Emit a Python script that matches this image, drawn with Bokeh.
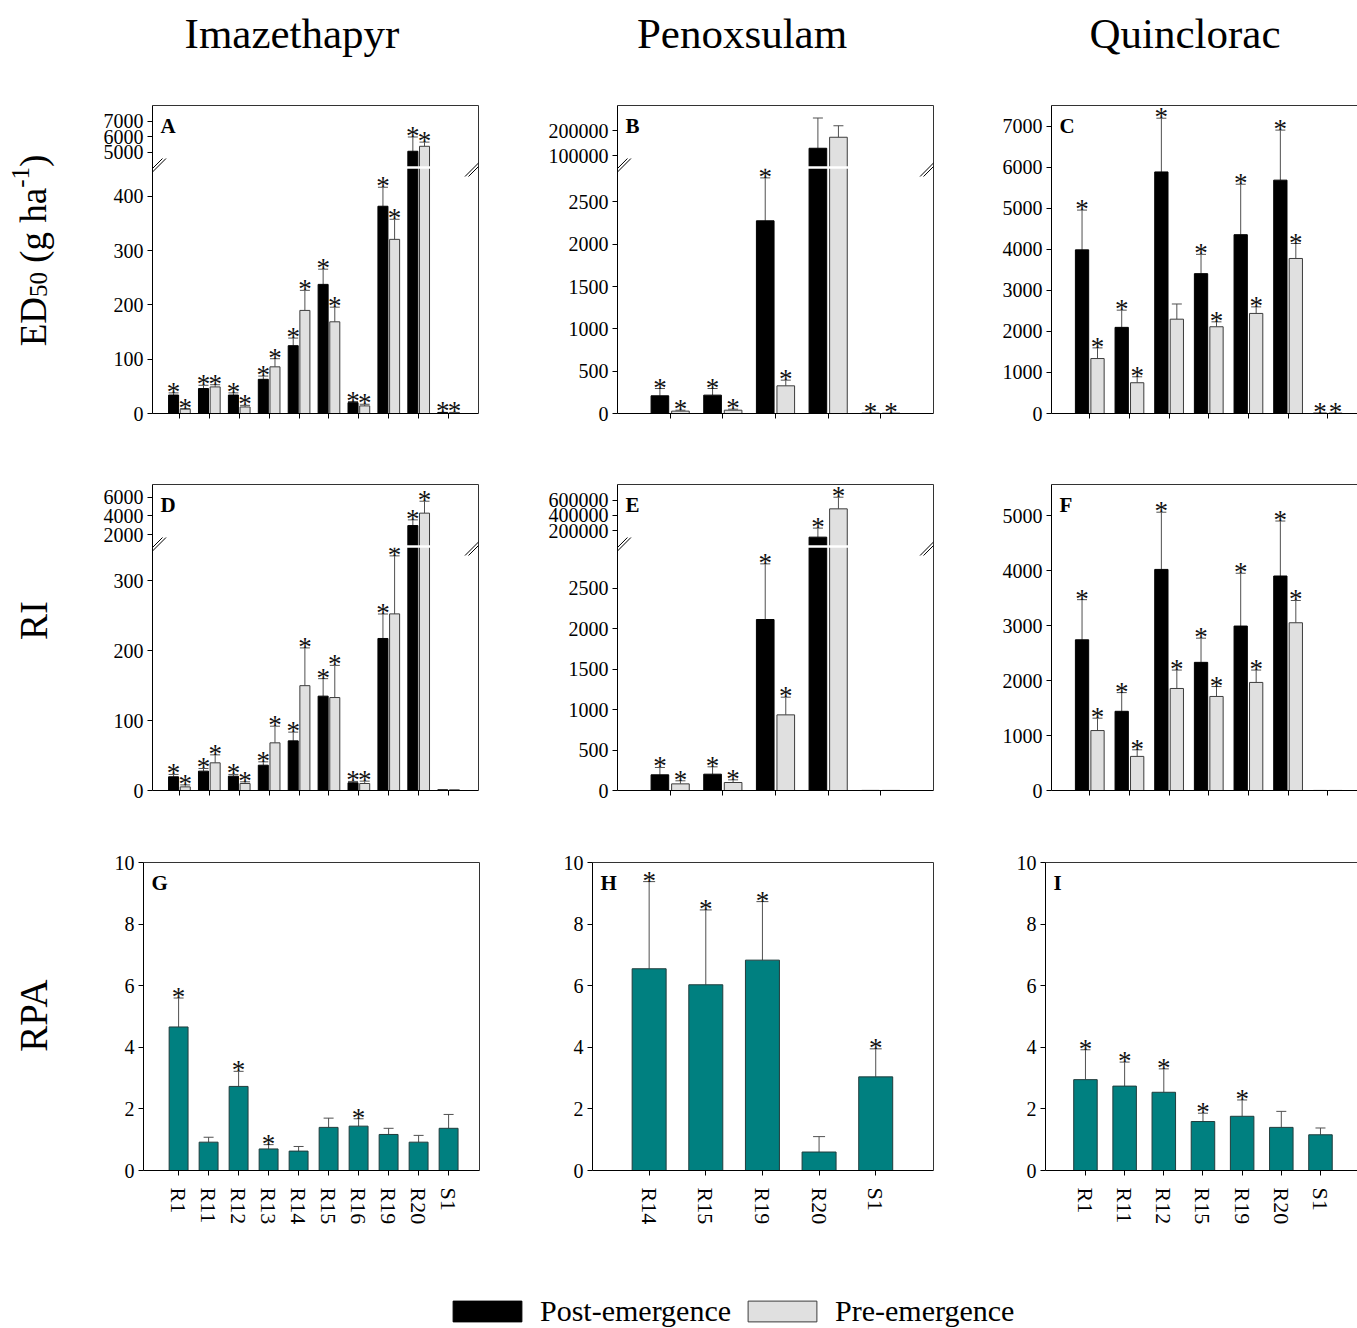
import math
from bokeh.plotting import figure
from bokeh.models import (ColumnDataSource, Range1d, LinearAxis, FixedTicker,
                          Whisker, TeeHead, Legend, LegendItem, Arrow,
                          CustomLabelingPolicy)
from bokeh.layouts import row, column
from bokeh.embed import file_html
from bokeh.resources import INLINE
from bokeh.core.properties import value

FONT = "Liberation Serif"

# ---------------- data ----------------
herbicides = ["Imazethapyr", "Penoxsulam", "Quinclorac"]
row_labels = ["RI", "RPA"]
series_names = ["Post-emergence", "Pre-emergence"]
panel_letters = ["A", "B", "C", "D", "E", "F", "G", "H", "I"]

cats_imaz = ["R1", "R11", "R12", "R13", "R14", "R15", "R16", "R19", "R20", "S1"]
cats_peno = ["R14", "R15", "R19", "R20", "S1"]
cats_quin = ["R1", "R11", "R12", "R15", "R19", "R20", "S1"]

# ED50 (g ha-1): mean, standard error, significance asterisk
ed50_imaz_post = [34, 46, 34, 63, 125, 238, 20, 382, 5080, 2]
ed50_imaz_post_se = [4, 6, 4, 6, 14, 28, 2, 35, 920, 0]
ed50_imaz_post_sig = [1, 1, 1, 1, 1, 1, 1, 1, 1, 1]
ed50_imaz_pre = [8, 49, 12, 86, 190, 169, 14, 321, 5400, 2]
ed50_imaz_pre_se = [1, 4, 3, 15, 37, 27, 3, 37, 270, 0]
ed50_imaz_pre_sig = [1, 1, 1, 1, 1, 1, 1, 1, 1, 1]

ed50_peno_post = [209, 217, 2276, 129000, 4]
ed50_peno_post_se = [86, 78, 507, 121000, 0]
ed50_peno_post_sig = [1, 1, 1, 0, 1]
ed50_peno_pre = [28, 39, 327, 173000, 4]
ed50_peno_pre_se = [11, 12, 67, 46000, 0]
ed50_peno_pre_sig = [1, 1, 1, 0, 1]

ed50_quin_post = [3990, 2100, 5890, 3410, 4360, 5690, 10]
ed50_quin_post_se = [970, 420, 1310, 470, 1230, 1220, 0]
ed50_quin_post_sig = [1, 1, 1, 1, 1, 1, 1]
ed50_quin_pre = [1340, 750, 2300, 2115, 2440, 3780, 10]
ed50_quin_pre_se = [260, 145, 370, 120, 160, 365, 0]
ed50_quin_pre_sig = [1, 1, 0, 1, 1, 1, 1]

# RI
ri_imaz_post = [19.6, 27.7, 20.5, 36.2, 71, 135, 11, 217.5, 2960, 1]
ri_imaz_post_se = [3.4, 3.8, 2.5, 4.8, 12.5, 25, 2, 35, 610, 0]
ri_imaz_post_sig = [1, 1, 1, 1, 1, 1, 1, 1, 1, 0]
ri_imaz_pre = [5.2, 39.6, 10, 68.2, 150, 133, 10, 252.7, 4290, 1]
ri_imaz_pre_se = [2.8, 11.4, 2.4, 23.8, 54, 46, 3.4, 83, 1280, 0]
ri_imaz_pre_sig = [1, 1, 1, 1, 1, 1, 1, 1, 1, 0]

ri_peno_post = [194, 202, 2116, 117000, 1]
ri_peno_post_se = [91, 91, 689, 118000, 0]
ri_peno_post_sig = [1, 1, 1, 1, 0]
ri_peno_pre = [82, 99, 936, 487000, 1]
ri_peno_pre_se = [38, 33, 219, 152000, 0]
ri_peno_pre_sig = [1, 1, 1, 1, 0]

ri_quin_post = [2740, 1440, 4020, 2330, 2990, 3900, 1]
ri_quin_post_se = [730, 340, 1040, 440, 960, 1000, 0]
ri_quin_post_sig = [1, 1, 1, 1, 1, 1, 0]
ri_quin_pre = [1090, 620, 1855, 1710, 1965, 3050, 1]
ri_quin_pre_se = [225, 120, 335, 180, 225, 405, 0]
ri_quin_pre_sig = [1, 1, 1, 1, 1, 1, 0]

# RPA
rpa_imaz = [4.66, 0.92, 2.73, 0.70, 0.63, 1.40, 1.44, 1.17, 0.92, 1.37]
rpa_imaz_se = [0.94, 0.16, 0.49, 0.14, 0.15, 0.30, 0.24, 0.20, 0.22, 0.45]
rpa_imaz_sig = [1, 0, 1, 1, 0, 0, 1, 0, 0, 0]
rpa_peno = [6.55, 6.03, 6.83, 0.60, 3.04]
rpa_peno_se = [2.83, 2.43, 1.90, 0.50, 0.91]
rpa_peno_sig = [1, 1, 1, 0, 1]
rpa_quin = [2.95, 2.74, 2.54, 1.59, 1.76, 1.40, 1.16]
rpa_quin_se = [0.97, 0.78, 0.76, 0.27, 0.53, 0.52, 0.22]
rpa_quin_sig = [1, 1, 1, 1, 1, 0, 0]

# y-axis tick values
ticks_A_low, ticks_A_high = [0, 100, 200, 300, 400], [5000, 6000, 7000]
ticks_B_low, ticks_B_high = [0, 500, 1000, 1500, 2000, 2500], [100000, 200000]
ticks_C = [0, 1000, 2000, 3000, 4000, 5000, 6000, 7000]
ticks_D_low, ticks_D_high = [0, 100, 200, 300], [2000, 4000, 6000]
ticks_E_low, ticks_E_high = [0, 500, 1000, 1500, 2000, 2500], [200000, 400000, 600000]
ticks_F = [0, 1000, 2000, 3000, 4000, 5000]
ticks_rpa = [0, 2, 4, 6, 8, 10]

# ---------------- style ----------------
POST_FILL, POST_LINE = "#000000", "#000000"
PRE_FILL, PRE_LINE = "#e0e0e0", "#3c3c3c"
TEAL, TEAL_LINE = "#008080", "#203c3c"
ERR = "#505050"
FRAME = "#333333"
TICK_PX = "20px"


def base_fig(w, h, bl, br, bt, bb, xr, yr):
    p = figure(width=w, height=h, min_border_left=bl, min_border_right=br,
               min_border_top=bt, min_border_bottom=bb,
               x_range=Range1d(*xr), y_range=Range1d(*yr),
               output_backend="svg", toolbar_location=None, tools="")
    p.outline_line_color = None
    p.grid.visible = False
    p.background_fill_color = "white"
    p.border_fill_color = "white"
    for ax in (p.left[0], p.below[0]):
        ax.axis_line_color = "black"
        ax.major_tick_line_color = "black"
        ax.minor_tick_line_color = None
        ax.major_tick_out = 5
        ax.major_tick_in = 0
        ax.major_label_standoff = 4
        ax.major_label_text_font = FONT
        ax.major_label_text_font_size = TICK_PX
        ax.major_label_text_color = "black"
    return p


def frame_axes(p, right=True):
    sides = ["above", "right"] if right else ["above"]
    for side in sides:
        ax = LinearAxis(ticker=FixedTicker(ticks=[]), axis_line_color=FRAME,
                        major_tick_line_color=None, minor_tick_line_color=None,
                        major_label_policy=CustomLabelingPolicy(code="return []"))
        p.add_layout(ax, side)


def add_err(p, x, lo, hi, rng=None, cap=10):
    if not x:
        return
    src = ColumnDataSource(dict(base=x, lower=lo, upper=hi))
    w = Whisker(source=src, base="base", lower="lower", upper="upper",
                dimension="height", line_color=ERR, line_width=1,
                lower_head=None,
                upper_head=TeeHead(size=cap, line_color=ERR, line_width=1))
    if rng:
        w.y_range_name = rng
    p.add_layout(w)


def add_stars(p, x, y, rng=None, size="27px"):
    if not x:
        return
    kw = dict(y_range_name=rng) if rng else {}
    p.text(x=x, y=y, text=["*"] * len(x), text_font=value(FONT),
           text_font_size=size, text_align="center", text_baseline="alphabetic",
           y_offset=-1, text_color="#111111", **kw)


def add_letter(p, letter, xr, ytop):
    p.text(x=[xr[0]], y=[ytop], text=[letter], x_offset=8, y_offset=8,
           text_font=value(FONT), text_font_style="bold", text_font_size="21px",
           text_align="left", text_baseline="top", text_color="black")


def grouped_panel(geom, xr, yr, cats, series, letter, ticks_low, ticks_high=None,
                  brk=None, right=True):
    w, h, bl, br, bt, bb = geom
    p = base_fig(w, h, bl, br, bt, bb, xr, yr)
    fw, fh = w - bl - br, h - bt - bb
    xs = list(range(1, len(cats) + 1))
    p.below[0].ticker = FixedTicker(ticks=xs)
    # tick marks only, no labels on the upper two rows
    p.below[0].major_label_policy = CustomLabelingPolicy(code="return []")

    yax = p.left[0]
    if brk is None:
        yax.ticker = FixedTicker(ticks=ticks_low)
        yax.major_label_overrides = {t: str(t) for t in ticks_low}
        b_low = None
    else:
        r1s, r1e = brk["top_range"]
        frac = brk["frac"]
        b_low = yr[1] * frac                      # break in lower scale
        t_low = r1s + (r1e - r1s) * frac          # break in upper scale
        p.extra_y_ranges = {"top": Range1d(r1s, r1e)}
        mapped = [round((v - r1s) / (r1e - r1s) * yr[1], 4) for v in ticks_high]
        yax.ticker = FixedTicker(ticks=list(ticks_low) + mapped)
        ov = {t: str(t) for t in ticks_low}
        ov.update({m: str(v) for m, v in zip(mapped, ticks_high)})
        yax.major_label_overrides = ov

    offsets = [-0.195, 0.195]
    styles = [(POST_FILL, POST_LINE), (PRE_FILL, PRE_LINE)]
    for (vals, ses, sigs), off, (fill, line) in zip(series, offsets, styles):
        x = [i + off for i in xs]
        low_top = vals if b_low is None else [min(v, b_low) for v in vals]
        p.vbar(x=x, top=low_top, bottom=0, width=0.335, fill_color=fill,
               line_color=line, line_width=1)
        lower = [i for i, v in enumerate(vals) if b_low is None or v <= b_low]
        upper = [i for i, v in enumerate(vals) if b_low is not None and v > b_low]
        add_err(p, [x[i] for i in lower if ses[i] > 0],
                [vals[i] for i in lower if ses[i] > 0],
                [vals[i] + ses[i] for i in lower if ses[i] > 0])
        add_stars(p, [x[i] for i in lower if sigs[i]],
                  [vals[i] + ses[i] for i in lower if sigs[i]])
        if upper:
            p.vbar(x=[x[i] for i in upper], top=[vals[i] for i in upper],
                   bottom=t_low, width=0.335, fill_color=fill, line_color=line,
                   line_width=1, y_range_name="top")
            add_err(p, [x[i] for i in upper if ses[i] > 0],
                    [vals[i] for i in upper if ses[i] > 0],
                    [vals[i] + ses[i] for i in upper if ses[i] > 0], rng="top")
            add_stars(p, [x[i] for i in upper if sigs[i]],
                      [vals[i] + ses[i] for i in upper if sigs[i]], rng="top")

    if b_low is not None:
        p.hspan(y=[b_low], line_color="white", line_width=2.5)
        sx = (xr[1] - xr[0]) / fw
        sy = (yr[1] - yr[0]) / fh
        for edge, offs in ((xr[0], (1.0, 4.5)), (xr[1], (-4.5, -1.0))):
            for o in offs:
                cx = edge + o * sx
                p.add_layout(Arrow(x_start=cx - 9 * sx, y_start=b_low - 9 * sy,
                                   x_end=cx + 9 * sx, y_end=b_low + 9 * sy,
                                   start=None, end=None, line_color="black",
                                   line_width=1, level="overlay"))

    add_letter(p, letter, xr, yr[1])
    frame_axes(p, right)
    return p


def rpa_panel(geom, xr, cats, vals, ses, sigs, letter, bar_w, cap, right=True):
    w, h, bl, br, bt, bb = geom
    yr = (0, 10)
    p = base_fig(w, h, bl, br, bt, bb, xr, yr)
    xs = list(range(1, len(cats) + 1))
    xa = p.below[0]
    xa.ticker = FixedTicker(ticks=xs)
    xa.major_label_overrides = {i: c for i, c in zip(xs, cats)}
    xa.major_label_orientation = "vertical"
    xa.major_label_text_font_size = "22px"
    xa.major_label_standoff = 12
    p.left[0].ticker = FixedTicker(ticks=ticks_rpa)
    p.vbar(x=xs, top=vals, bottom=0, width=bar_w, fill_color=TEAL,
           line_color=TEAL_LINE, line_width=1)
    add_err(p, xs, vals, [v + s for v, s in zip(vals, ses)], cap=cap)
    add_stars(p, [x for x, s in zip(xs, sigs) if s],
              [v + e for v, e, s in zip(vals, ses, sigs) if s])
    add_letter(p, letter, xr, 10)
    frame_axes(p, right)
    return p


# ---------------- geometry (width, height, left, right, top, bottom) ----------------
g_r1 = [(465, 375, 72, 67, 20, 47), (445, 375, 70, 57, 20, 47), (367, 375, 61, 0, 20, 47)]
g_r2 = [(465, 375, 72, 67, 24, 45), (445, 375, 70, 57, 24, 45), (367, 375, 61, 0, 24, 45)]
g_r3 = [(465, 415, 63, 66, 27, 80), (445, 415, 47, 57, 27, 80), (367, 415, 55, 0, 27, 80)]

xr_10 = (0.1, 11.0)
xr_5 = (0.0, 6.0)
xr_7 = (0.035, 7.75)

fA = grouped_panel(g_r1[0], xr_10, (0, 567.7), cats_imaz,
                   [(ed50_imaz_post, ed50_imaz_post_se, ed50_imaz_post_sig),
                    (ed50_imaz_pre, ed50_imaz_pre_se, ed50_imaz_pre_sig)],
                   "A", ticks_A_low, ticks_A_high,
                   brk=dict(top_range=(-11839, 8032), frac=246 / 308))
fB = grouped_panel(g_r1[1], xr_5, (0, 3638), cats_peno,
                   [(ed50_peno_post, ed50_peno_post_se, ed50_peno_post_sig),
                    (ed50_peno_pre, ed50_peno_pre_se, ed50_peno_pre_sig)],
                   "B", ticks_B_low, ticks_B_high,
                   brk=dict(top_range=(-932000, 300000), frac=246 / 308))
fC = grouped_panel(g_r1[2], xr_7, (0, 7510), cats_quin,
                   [(ed50_quin_post, ed50_quin_post_se, ed50_quin_post_sig),
                    (ed50_quin_pre, ed50_quin_pre_se, ed50_quin_pre_sig)],
                   "C", ticks_C, right=False)

fD = grouped_panel(g_r2[0], xr_10, (0, 437.8), cats_imaz,
                   [(ri_imaz_post, ri_imaz_post_se, ri_imaz_post_sig),
                    (ri_imaz_pre, ri_imaz_pre_se, ri_imaz_pre_sig)],
                   "D", ticks_D_low, ticks_D_high,
                   brk=dict(top_range=(-25453, 7362), frac=244 / 306))
fE = grouped_panel(g_r2[1], xr_5, (0, 3787), cats_peno,
                   [(ri_peno_post, ri_peno_post_se, ri_peno_post_sig),
                    (ri_peno_pre, ri_peno_pre_se, ri_peno_pre_sig)],
                   "E", ticks_E_low, ticks_E_high,
                   brk=dict(top_range=(-3194800, 805200), frac=244 / 306))
fF = grouped_panel(g_r2[2], xr_7, (0, 5564), cats_quin,
                   [(ri_quin_post, ri_quin_post_se, ri_quin_post_sig),
                    (ri_quin_pre, ri_quin_pre_se, ri_quin_pre_sig)],
                   "F", ticks_F, right=False)

fG = rpa_panel(g_r3[0], (-0.17, 11.03), cats_imaz, rpa_imaz, rpa_imaz_se, rpa_imaz_sig, "G", 0.63, 10)
fH = rpa_panel(g_r3[1], (0.0, 6.02), cats_peno, rpa_peno, rpa_peno_se, rpa_peno_sig, "H", 0.6, 12)
fI = rpa_panel(g_r3[2], (-0.02, 7.945), cats_quin, rpa_quin, rpa_quin_se, rpa_quin_sig, "I", 0.6, 10, right=False)


def blank_fig(w, h):
    p = figure(width=w, height=h, x_range=Range1d(0, w), y_range=Range1d(0, h),
               min_border=0, x_axis_type=None, y_axis_type=None,
               output_backend="svg", toolbar_location=None, tools="")
    p.outline_line_color = None
    p.grid.visible = False
    p.background_fill_color = "white"
    p.border_fill_color = "white"
    return p


# column titles
title_fig = blank_fig(1277, 85)
title_fig.text(x=[211.5, 661.5, 1104.5], y=[52, 52, 52], text=herbicides,
               text_font=value(FONT), text_font_size="43px", text_align="center",
               text_baseline="alphabetic", text_color="black")

# row labels
H_ALL = 1328
lab = blank_fig(80, H_ALL)
ang = math.pi / 2
XB = 33  # baseline position of the rotated labels
lab.text(x=[XB], y=[H_ALL - 345.8], text=["ED"], angle=ang, text_font=value(FONT),
         text_font_size="37px", text_align="left", text_baseline="alphabetic")
lab.text(x=[XB + 5], y=[H_ALL - 296.5], text=["50"], angle=ang, text_font=value(FONT),
         text_font_size="25px", text_align="left", text_baseline="alphabetic")
lab.text(x=[XB], y=[H_ALL - 262.3], text=["(g ha"], angle=ang, text_font=value(FONT),
         text_font_size="37px", text_align="left", text_baseline="alphabetic")
lab.text(x=[XB - 13], y=[H_ALL - 187.3], text=["-1"], angle=ang, text_font=value(FONT),
         text_font_size="25px", text_align="left", text_baseline="alphabetic")
lab.text(x=[XB], y=[H_ALL - 166.5], text=[")"], angle=ang, text_font=value(FONT),
         text_font_size="37px", text_align="left", text_baseline="alphabetic")
lab.text(x=[XB, XB], y=[H_ALL - 620, H_ALL - 1015], text=row_labels, angle=ang,
         text_font=value(FONT), text_font_size="39px", text_align="center",
         text_baseline="alphabetic")

# legend
leg_fig = blank_fig(1277, 78)
rb = leg_fig.vbar(x=[-100], top=[0], width=0.5, fill_color=POST_FILL, line_color=POST_LINE)
rg = leg_fig.vbar(x=[-100], top=[0], width=0.5, fill_color=PRE_FILL, line_color=PRE_LINE)
legend = Legend(items=[LegendItem(label=series_names[0], renderers=[rb]),
                       LegendItem(label=series_names[1], renderers=[rg])],
                orientation="horizontal", location=(364, 0),
                glyph_width=86, glyph_height=26, label_standoff=10, spacing=8,
                padding=0, margin=0, label_height=33,
                border_line_color=None, background_fill_alpha=0,
                label_text_font=FONT, label_text_font_size="30px",
                label_text_color="black")
leg_fig.add_layout(legend)

layout = row(lab, column(title_fig,
                         row(fA, fB, fC),
                         row(fD, fE, fF),
                         row(fG, fH, fI),
                         leg_fig))

open("out.html", "w").write(file_html(layout, INLINE))
